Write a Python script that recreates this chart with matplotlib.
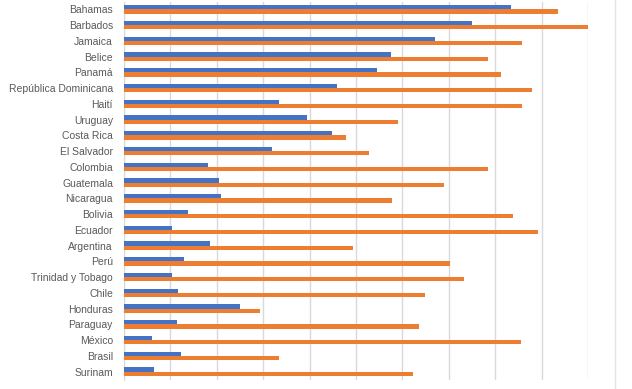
import matplotlib
matplotlib.use("Agg")
import matplotlib.pyplot as plt
import numpy as np
from matplotlib.lines import Line2D

countries = ["Bahamas", "Barbados", "Jamaica", "Belice", "Panamá",
             "República Dominicana", "Haití", "Uruguay", "Costa Rica",
             "El Salvador", "Colombia", "Guatemala", "Nicaragua", "Bolivia",
             "Ecuador", "Argentina", "Perú", "Trinidad y Tobago", "Chile",
             "Honduras", "Paraguay", "México", "Brasil", "Surinam"]
blue_vals = [8.33, 7.51, 6.70, 5.75, 5.46, 4.58, 3.33, 3.95, 4.48, 3.20,
             1.81, 2.05, 2.10, 1.39, 1.03, 1.85, 1.29, 1.03, 1.17, 2.49,
             1.14, 0.60, 1.22, 0.65]
orange_vals = [9.36, 10.0, 8.58, 7.84, 8.13, 8.80, 8.58, 5.90, 4.79, 5.29,
               7.84, 6.89, 5.78, 8.38, 8.93, 4.94, 7.02, 7.33, 6.49, 2.93,
               6.36, 8.55, 3.35, 6.23]

plt.rcParams["font.family"] = ["Liberation Sans", "DejaVu Sans"]

fig = plt.figure(figsize=(6.32, 3.89), dpi=100)
ax = fig.add_axes([124 / 632, 9.5 / 389, 464 / 632, 378 / 389])

y = np.arange(len(countries))
h = 0.27
ax.barh(y - h / 2, blue_vals, h, color="#4472C4", zorder=3)
ax.barh(y + h / 2, orange_vals, h, color="#ED7D31", zorder=3)

ax.set_xlim(0, 10)
ax.set_ylim(len(countries) - 0.5, -0.5)
ax.set_xticks(np.arange(0, 11, 1))
ax.set_xticklabels([])
ax.set_yticks(y)
ax.set_yticklabels(countries, fontsize=7.5, color="#595959")
ax.tick_params(length=0, pad=8)
ax.grid(axis="x", color="#D9D9D9", linewidth=1, zorder=0)
for s in ["top", "right", "bottom"]:
    ax.spines[s].set_visible(False)
ax.spines["left"].set_color("#D9D9D9")

# faint frame edge at the right of the screenshot
fig.add_artist(Line2D([615 / 632, 615 / 632], [0, 1], color="#E4E4E4", lw=1))

fig.savefig("out.png", dpi=100, facecolor="white")
